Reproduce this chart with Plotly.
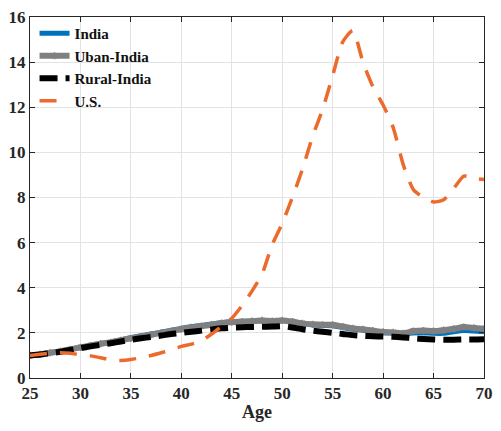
import plotly.graph_objects as go

ages = list(range(25, 71))

us = [1.0, 1.05, 1.1, 1.12, 1.1, 1.02, 0.98, 0.9, 0.8, 0.78, 0.82, 0.9, 1.0, 1.12, 1.25,
      1.4, 1.5, 1.65, 1.95, 2.3, 2.65, 3.2, 3.85, 4.6, 5.9, 6.85, 8.0, 9.25, 10.7, 11.9,
      13.4, 14.9, 15.4, 14.0, 12.9, 12.1, 11.1, 9.45, 8.35, 8.0, 7.8, 7.9, 8.4, 8.95, 8.85, 8.8]

urban = [1.0, 1.05, 1.12, 1.18, 1.27, 1.36, 1.44, 1.52, 1.58, 1.67, 1.76, 1.84, 1.92, 2.0, 2.08,
         2.17, 2.24, 2.3, 2.36, 2.43, 2.48, 2.5, 2.52, 2.55, 2.52, 2.55, 2.5, 2.42, 2.38, 2.36,
         2.36, 2.28, 2.2, 2.16, 2.1, 2.04, 2.02, 1.98, 2.08, 2.1, 2.08, 2.12, 2.18, 2.26, 2.22, 2.18]

india = [1.0, 1.05, 1.12, 1.18, 1.27, 1.36, 1.44, 1.52, 1.59, 1.69, 1.79, 1.87, 1.95, 2.03, 2.11,
         2.2, 2.27, 2.33, 2.39, 2.45, 2.49, 2.5, 2.52, 2.54, 2.52, 2.54, 2.49, 2.41, 2.36, 2.33,
         2.32, 2.24, 2.16, 2.12, 2.06, 2.01, 1.99, 1.96, 2.0, 2.0, 1.98, 1.98, 2.05, 2.1, 2.08, 2.05]

rural = [1.0, 1.04, 1.1, 1.16, 1.24, 1.32, 1.4, 1.47, 1.54, 1.62, 1.69, 1.76, 1.82, 1.88, 1.95,
         2.0, 2.05, 2.1, 2.15, 2.2, 2.23, 2.25, 2.26, 2.27, 2.28, 2.3, 2.24, 2.16, 2.1, 2.05,
         2.0, 1.95, 1.9, 1.87, 1.85, 1.84, 1.83, 1.8, 1.76, 1.73, 1.71, 1.7, 1.7, 1.71, 1.71, 1.72]

x_ticks = [25, 30, 35, 40, 45, 50, 55, 60, 65, 70]
y_ticks = [0, 2, 4, 6, 8, 10, 12, 14, 16]

FONT = "Liberation Serif"
TXT = "#262626"

fig = go.Figure()
fig.add_trace(go.Scatter(x=ages, y=india, name="<b>India</b>", mode="lines",
                         line=dict(color="#0072BD", width=5, shape="spline", smoothing=0.6)))
fig.add_trace(go.Scatter(x=ages, y=urban, name="<b>Uban-India</b>", mode="lines+markers",
                         line=dict(color="#808080", width=6, shape="spline", smoothing=0.6),
                         marker=dict(symbol="asterisk-open", size=6, color="#808080",
                                     line=dict(color="#808080", width=1.5))))
fig.add_trace(go.Scatter(x=ages, y=rural, name="<b>Rural-India</b>", mode="lines",
                         line=dict(color="black", width=6, dash="18px,8px", shape="spline", smoothing=0.6)))
fig.add_trace(go.Scatter(x=ages, y=us, name="<b>U.S.</b>", mode="lines",
                         line=dict(color="#EB6A2C", width=3.5, dash="17px,13px", shape="spline", smoothing=0.6)))

axis_common = dict(showgrid=True, gridcolor="#E3E3E3", gridwidth=1, zeroline=False,
                   showline=True, linecolor="#262626", linewidth=1, mirror="ticks",
                   ticks="inside", ticklen=5, tickcolor="#262626",
                   tickfont=dict(family=FONT, size=17, color=TXT))

fig.update_xaxes(range=[25, 70], tickmode="array", tickvals=x_ticks,
                 ticktext=[f"<b>{v}</b>" for v in x_ticks],
                 title=dict(text="<b>Age</b>", font=dict(family=FONT, size=18, color=TXT),
                            standoff=2),
                 **axis_common)
fig.update_yaxes(range=[0, 16], tickmode="array", tickvals=y_ticks,
                 ticktext=[f"<b>{v}</b>" for v in y_ticks], **axis_common)

fig.update_layout(
    width=501, height=431,
    margin=dict(l=30, r=8, t=12, b=53),
    plot_bgcolor="white", paper_bgcolor="white",
    font=dict(family=FONT, color=TXT),
    legend=dict(x=0.01, y=1.0, xanchor="left", yanchor="top",
                bgcolor="rgba(255,255,255,0)", borderwidth=0,
                font=dict(family=FONT, size=15, color="#111111"),
                tracegroupgap=0, itemwidth=30),
    showlegend=True,
)

fig.write_html("out.html")
